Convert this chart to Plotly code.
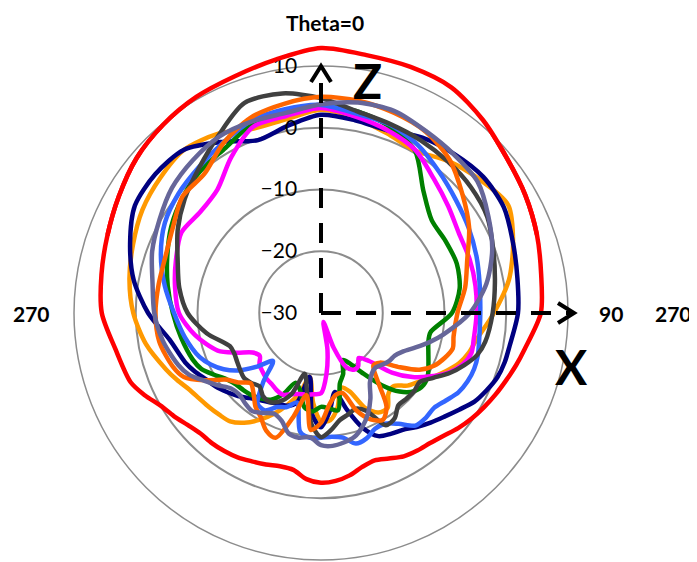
import plotly.graph_objects as go

# the page body keeps its default 8px margin, so the figure is 8px smaller
OFF = 8
W, H = 697 - OFF, 562 - OFF

# angles (deg, clockwise from Z) shared by all curves; finer around the back lobe
THETA = [0, 10, 20, 30, 40, 50, 60, 70, 80, 90, 100,
         105, 110, 115, 120, 125, 130, 135, 140, 145, 150, 155, 160, 165, 170,
         175, 180, 185, 190, 195, 200, 205, 210, 215, 220, 225, 230, 235, 240, 245,
         250, 260, 270, 280, 290, 300, 310, 320, 330, 340, 350]

RED = [12.9, 12.4, 12.4, 12.2, 10.8, 9.2, 8.2, 7.2, 6.2, 5.6, 3.5,
       2.7, 1.9, 1.2, 0.5, -0.2, -1.0, -1.9, -2.5, -2.8, -3.2, -4.0, -4.6, -4.2, -3.3,
       -2.7, -2.5, -3.0, -4.2, -4.3, -3.9, -3.5, -3.0, -2.7, -2.5, -2.4, -1.8, -0.9, 0.0, 1.5,
       2.8, 3.8, 5.5, 6.1, 6.8, 7.8, 9.0, 9.8, 10.4, 10.8, 11.7]

NAVY = [2.1, 1.7, 1.5, 2.8, 3.6, 4.3, 4.2, 3.1, 2.3, 1.9, 1.0,
        0.8, 0.4, -0.4, -1.3, -2.7, -3.9, -4.9, -5.9, -6.9, -7.4, -8.0, -10.2, -13.8, -17.0,
        -14.0, -11.5, -13.5, -19.5, -15.0, -14.0, -13.8, -13.3, -12.8, -12.0, -11.0, -10.1, -9.2, -8.5, -7.5,
        -6.6, -5.1, -2.0, 0.8, 2.9, 4.8, 5.0, 4.5, 2.0, -0.2, 0.8]

BLACK = [4.8, 3.2, 2.6, 2.3, 2.0, 1.7, 1.1, -0.3, -1.4, -2.2, -3.0,
         -3.8, -5.3, -7.0, -9.0, -10.5, -10.3, -10.4, -10.5, -9.2, -9.0, -12.5, -13.5, -13.0, -12.4,
         -11.0, -9.9, -12.0, -17.0, -19.8, -16.0, -14.2, -13.4, -13.6, -14.5, -14.0, -13.7, -14.0, -14.3, -14.5,
         -14.3, -11.2, -8.4, -6.7, -5.3, -3.2, -1.2, 0.7, 3.2, 6.2, 6.1]

GREEN = [3.4, 3.2, 2.2, 0.4, -4.2, -6.6, -6.7, -6.6, -7.2, -8.8, -12.0,
         -12.0, -11.5, -10.8, -10.0, -9.7, -10.3, -12.0, -14.8, -18.0, -20.5, -21.6, -19.5, -18.2, -14.0,
         -14.5, -14.8, -14.0, -14.5, -17.0, -18.0, -15.5, -13.8, -13.1, -12.6, -12.3, -12.0, -11.3, -10.0, -8.6,
         -7.9, -7.0, -6.0, -4.8, -3.5, -2.0, -0.8, 0.2, 0.9, 2.6, 3.2]

MAGENTA = [3.2, 2.3, 1.5, 0.5, -1.6, -3.1, -4.2, -4.4, -4.6, -4.8, -4.9,
           -4.8, -5.6, -7.2, -9.5, -11.9, -15.0, -19.0, -20.5, -19.5, -19.4, -20.3, -24.0, -28.5, -24.0,
           -20.0, -17.0, -16.8, -16.6, -16.4, -16.0, -15.4, -15.6, -16.0, -16.2, -16.6, -17.0, -17.9, -17.2, -14.8,
           -12.2, -9.3, -7.0, -6.0, -5.0, -3.9, -4.5, -3.9, -0.9, 2.1, 2.4]

BLUE = [3.7, 2.8, 2.5, 1.4, -0.2, -1.5, -2.4, -3.2, -3.9, -4.2, -4.0,
        -3.7, -3.6, -3.8, -4.3, -5.3, -6.1, -6.0, -6.2, -8.1, -9.3, -9.3, -8.4, -8.1, -9.5,
        -9.9, -9.8, -9.7, -10.5, -15.0, -13.8, -13.2, -11.8, -12.1, -15.5, -19.0, -16.5, -13.8, -11.8, -10.3,
        -9.1, -7.6, -6.2, -4.3, -2.4, -0.8, 0.1, 0.8, 1.8, 3.1, 3.5]

DARK_ORANGE = [5.0, 4.9, 4.5, 3.9, 2.4, -0.1, -2.3, -4.8, -6.3, -7.9, -8.2,
               -7.9, -8.7, -9.8, -11.6, -14.8, -17.5, -18.0, -15.8, -11.5, -10.0, -11.0, -13.2, -16.6, -16.5,
               -15.0, -12.2, -11.0, -16.5, -12.5, -8.5, -9.0, -10.5, -11.5, -13.0, -13.9, -12.5, -11.2, -8.2, -5.5,
               -4.5, -3.4, -3.2, -3.3, -3.2, -2.3, -0.7, -0.6, 1.7, 3.6, 4.4]

LIGHT_ORANGE = [2.9, 2.1, 1.0, 0.4, 2.1, 3.6, 5.0, 3.1, 0.9, -2.0, -4.5,
                -5.2, -6.2, -7.7, -9.2, -10.6, -11.7, -13.3, -13.0, -11.2, -11.4, -13.0, -16.5, -17.5, -14.5,
                -12.6, -12.5, -15.4, -19.5, -16.5, -14.2, -12.0, -10.0, -8.3, -7.1, -6.7, -6.3, -5.9, -5.3, -4.3,
                -3.3, -1.2, 0.4, 1.5, 2.4, 3.4, 4.0, 4.5, 3.5, 1.8, 1.9]

SLATE = [3.8, 4.6, 4.8, 4.0, 3.5, 3.1, 1.3, -0.5, -2.8, -5.9, -9.9,
         -11.8, -13.7, -15.3, -16.2, -16.5, -17.0, -17.5, -17.2, -16.2, -14.0, -12.0, -10.4, -9.2, -8.7,
         -8.4, -8.6, -9.8, -9.5, -9.8, -11.4, -12.0, -11.3, -10.6, -10.9, -11.3, -11.0, -9.6, -8.1, -6.4,
         -5.4, -4.0, -3.0, -2.3, -0.9, 0.2, 1.5, 2.3, 3.0, 3.0, 2.9]

R_TICKS = [-30, -20, -10, 0, 10]
R_MAX = 10      # outer ring of the chart
R_MAX_TOP = 14  # the red curve pokes past the ring at the top

SERIES = [
    (RED, "#FF0000"),
    (LIGHT_ORANGE, "#FF9900"),
    (NAVY, "#000080"),
    (GREEN, "#008000"),
    (MAGENTA, "#FF00FF"),
    (BLUE, "#3366FF"),
    (BLACK, "#404040"),
    (DARK_ORANGE, "#FF6600"),
    (SLATE, "#666699"),
]

FONT = "Lato, 'Open Sans', sans-serif"
LW = 4.5


def px(x):
    return (x - OFF) / W


def py(y):
    return 1 - (y - OFF) / H


# centre and outer radius of the chart, in page pixels
CX, CY, RAD = 321, 313, 247
RAD_TOP = RAD * (R_MAX_TOP + 30) / (R_MAX + 30)
SECTOR = [20, 160]
HALF_W = RAD_TOP * 0.9397  # cos(20 deg)

fig = go.Figure()
for vals, color in SERIES:
    fig.add_trace(go.Scatterpolar(
        r=vals + vals[:1], theta=THETA + [360], subplot="polar",
        mode="lines", showlegend=False, hoverinfo="skip",
        line=dict(color=color, width=LW, shape="spline", smoothing=0.8),
    ))
# same red curve again on a wider, upper-wedge subplot so it is not cut at the ring
fig.add_trace(go.Scatterpolar(
    r=RED + RED[:1], theta=THETA + [360], subplot="polar2",
    mode="lines", showlegend=False, hoverinfo="skip",
    line=dict(color="#FF0000", width=LW, shape="spline", smoothing=0.8),
))

shapes = []
dash = dict(color="black", width=4, dash="20px,15px")
shapes.append(dict(type="line", xref="paper", yref="paper",
                   x0=px(CX), y0=py(CY), x1=px(CX), y1=py(CY - RAD + 2), line=dash))
shapes.append(dict(type="line", xref="paper", yref="paper",
                   x0=px(CX), y0=py(CY), x1=px(CX + RAD + 4), y1=py(CY), line=dash))
solid = dict(color="black", width=4)
shapes.append(dict(type="path", xref="paper", yref="paper", line=solid,
                   path=f"M {px(CX-10)},{py(CY-RAD+16)} L {px(CX)},{py(CY-RAD)} "
                        f"L {px(CX+10)},{py(CY-RAD+16)}"))
shapes.append(dict(type="path", xref="paper", yref="paper", line=solid,
                   path=f"M {px(CX+RAD-10)},{py(CY-10)} L {px(CX+RAD+6)},{py(CY)} "
                        f"L {px(CX+RAD-10)},{py(CY+10)}"))

bold = dict(family=FONT, color="black", size=21, weight="bold")
annotations = [
    dict(text="Theta=0", x=px(325), y=py(22), font=dict(bold, size=21)),
    dict(text="270", x=px(31), y=py(313), font=bold),
    dict(text="90", x=px(611), y=py(313), font=bold),
    dict(text="270", x=px(673), y=py(313), font=bold),
    dict(text="Z", x=px(367), y=py(81), font=dict(bold, size=48)),
    dict(text="X", x=px(571), y=py(366), font=dict(bold, size=48)),
]
for a in annotations:
    a.update(xref="paper", yref="paper", showarrow=False, xanchor="center", yanchor="middle")

hidden_axis = dict(visible=False, showgrid=False, showline=False, showticklabels=False, ticks="")

fig.update_layout(
    width=W, height=H,
    margin=dict(l=0, r=0, t=0, b=0),
    paper_bgcolor="white",
    font=dict(family=FONT, color="black"),
    showlegend=False,
    shapes=shapes,
    annotations=annotations,
    polar=dict(
        domain=dict(x=[px(CX - RAD), px(CX + RAD)], y=[py(CY + RAD), py(CY - RAD)]),
        bgcolor="white",
        angularaxis=dict(rotation=90, direction="clockwise", showticklabels=False,
                         ticks="", showgrid=False, showline=True,
                         linecolor="#8C8C8C", linewidth=1.5),
        radialaxis=dict(range=[-30, R_MAX], tickvals=R_TICKS, angle=90, tickangle=90,
                        side="counterclockwise", showline=False,
                        ticks="outside", ticklen=16, tickcolor="rgba(0,0,0,0)",
                        gridcolor="#8C8C8C", gridwidth=1.5,
                        tickfont=dict(family=FONT, size=21, color="black")),
    ),
    polar2=dict(
        domain=dict(x=[px(CX - HALF_W), px(CX + HALF_W)], y=[py(CY), py(CY - RAD_TOP)]),
        sector=SECTOR,
        bgcolor="rgba(0,0,0,0)",
        angularaxis=dict(hidden_axis, rotation=90, direction="clockwise"),
        radialaxis=dict(hidden_axis, range=[-30, R_MAX_TOP]),
    ),
)

fig.write_html("out.html")
